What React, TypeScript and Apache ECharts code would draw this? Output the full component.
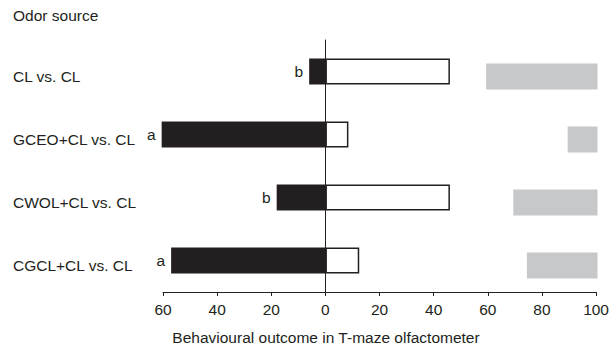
import React, { useEffect, useRef } from "react";
import * as echarts from "echarts";

const categories = ["CL vs. CL", "GCEO+CL vs. CL", "CWOL+CL vs. CL", "CGCL+CL vs. CL"];
const blackValues = [-6, -60.5, -18, -57];
const whiteValues = [46, 8.5, 46, 12.5];
const grayValues = [41, 11, 31, 26];
const sigLetters = ["b", "a", "b", "a"];
const xTickMin = -60;
const xTickMax = 100;
const xTickStep = 20;

const INK = "#231f20";
const GRAY = "#c7c8ca";
const FONT = "'Liberation Sans', Arial, Helvetica, sans-serif";
const FS = 15.5;

export default function App() {
  const ref = useRef<HTMLDivElement>(null);
  useEffect(() => {
    if (!ref.current) return;
    const chart = echarts.init(ref.current, null, { renderer: "svg" });
    const grayBase = grayValues.map((v) => 100 - v);
    chart.setOption({
      animation: false,
      backgroundColor: "#ffffff",
      textStyle: { fontFamily: FONT, color: INK },
      title: {
        text: "Odor source",
        left: 13,
        top: 7,
        padding: 0,
        textStyle: { fontSize: FS, fontWeight: "normal", color: INK, fontFamily: FONT },
      },
      graphic: [
        {
          type: "text",
          x: 326,
          y: 337,
          style: {
            text: "Behavioural outcome in T-maze olfactometer",
            fill: INK,
            font: `${FS}px ${FONT}`,
            textAlign: "center",
            textVerticalAlign: "middle",
          },
        },
      ],
      grid: [
        { left: 163, right: 14.5, top: 40, bottom: 55 },
        { left: 163, right: 14.5, top: 45, bottom: 50 },
      ],
      xAxis: [
        {
          type: "value",
          gridIndex: 0,
          min: xTickMin,
          max: xTickMax,
          interval: xTickStep,
          axisLine: { show: true, lineStyle: { color: INK, width: 1 } },
          axisTick: { show: true, inside: false, length: 4, lineStyle: { color: INK } },
          axisLabel: {
            color: INK,
            fontSize: FS,
            fontFamily: FONT,
            margin: 9,
            formatter: (v: number) => String(Math.abs(v)),
          },
          splitLine: { show: false },
        },
        {
          type: "value",
          gridIndex: 1,
          min: xTickMin,
          max: xTickMax,
          show: false,
          splitLine: { show: false },
        },
      ],
      yAxis: [
        {
          type: "category",
          gridIndex: 0,
          data: categories,
          inverse: true,
          axisLine: { show: true, onZero: true, lineStyle: { color: INK, width: 1 } },
          axisTick: { show: false },
          axisLabel: { show: false },
          splitLine: { show: false },
        },
        {
          type: "category",
          gridIndex: 1,
          data: categories,
          inverse: true,
          axisLine: { show: false },
          axisTick: { show: false },
          axisLabel: {
            show: true,
            align: "left",
            margin: 150,
            color: INK,
            fontSize: FS,
            fontFamily: FONT,
          },
          splitLine: { show: false },
        },
      ],
      series: [
        {
          type: "bar",
          xAxisIndex: 1,
          yAxisIndex: 1,
          stack: "gray",
          data: grayBase,
          barWidth: 26,
          itemStyle: { color: "transparent" },
          silent: true,
        },
        {
          type: "bar",
          xAxisIndex: 1,
          yAxisIndex: 1,
          stack: "gray",
          data: grayValues,
          barWidth: 26,
          itemStyle: { color: GRAY },
        },
        {
          type: "bar",
          xAxisIndex: 0,
          yAxisIndex: 0,
          stack: "bw",
          clip: false,
          data: blackValues,
          barWidth: 26,
          itemStyle: { color: INK },
          label: {
            show: true,
            position: "left",
            distance: 6,
            color: INK,
            fontSize: FS,
            fontFamily: FONT,
            formatter: (p: any) => sigLetters[p.dataIndex],
          },
        },
        {
          type: "bar",
          xAxisIndex: 0,
          yAxisIndex: 0,
          stack: "bw",
          data: whiteValues,
          barWidth: 26,
          itemStyle: { color: "#ffffff", borderColor: INK, borderWidth: 1.5 },
        },
      ],
    });
    return () => chart.dispose();
  }, []);
  return (
    <div
      ref={ref}
      style={{ position: "fixed", left: 0, top: 0, width: 612, height: 347 }}
    />
  );
}
